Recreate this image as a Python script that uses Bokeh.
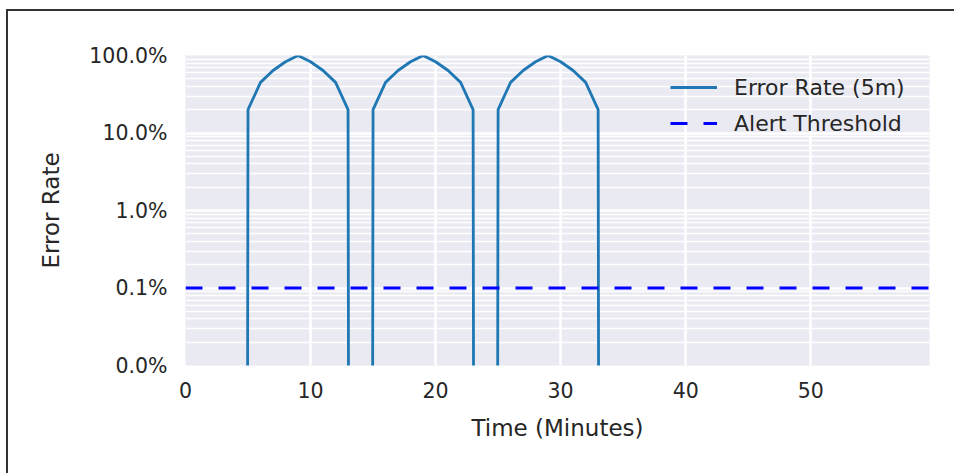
import numpy as np
from bokeh.plotting import figure
from bokeh.models import (Range1d, FixedTicker, Legend, LegendItem)
from bokeh.embed import file_html
from bokeh.resources import INLINE

# ---- data ----
minutes = list(range(60))
error_rate = ([0, 0, 0, 0, 0]
              + [0.2, 0.45, 0.64, 0.83, 1.0, 0.83, 0.64, 0.45, 0.2]
              + [0]
              + [0.2, 0.45, 0.64, 0.83, 1.0, 0.83, 0.64, 0.45, 0.2]
              + [0]
              + [0.2, 0.45, 0.64, 0.83, 1.0, 0.83, 0.64, 0.45, 0.2]
              + [0] * 26)
threshold = 0.001
x_limits = [0, 59.5]
y_limits = [1e-4, 1.0]
x_ticks = [0, 10, 20, 30, 40, 50]
y_ticks = [1e-4, 1e-3, 1e-2, 1e-1, 1.0]
y_tick_labels = ["0.0%", "0.1%", "1.0%", "10.0%", "100.0%"]
series_names = ["Error Rate (5m)", "Alert Threshold"]

FONT = "DejaVu Sans"
TXT = "#262626"

# zeros cannot be shown on a log axis: clip them far below the visible range (like matplotlib)
plot_rate = np.clip(np.array(error_rate, dtype=float), 1e-100, None)

p = figure(width=948, height=464, y_axis_type="log",
           x_range=Range1d(*x_limits), y_range=Range1d(*y_limits),
           output_backend="svg", toolbar_location=None,
           min_border_left=177, min_border_right=27,
           min_border_top=44, min_border_bottom=110)

p.styles = {"border-top": "2px solid #333333", "border-left": "2px solid #333333",
            "margin-left": "6px", "margin-top": "9px"}

p.background_fill_color = "#EAEAF2"
p.border_fill_color = "white"
p.outline_line_color = None

r1 = p.line(minutes, plot_rate, line_color="#1f77b4", line_width=2.8)
r2 = p.line(x_limits, [threshold, threshold], line_color="#0000ff", line_width=2.8,
            line_dash="17 16")

# ticks / grids
minor = [k * d for d in y_ticks[:-1] for k in range(2, 10)]
p.yaxis.ticker = FixedTicker(ticks=y_ticks, minor_ticks=minor)
p.xaxis.ticker = FixedTicker(ticks=x_ticks)
p.yaxis.major_label_overrides = {t: s for t, s in zip(y_ticks, y_tick_labels)}

p.xgrid.grid_line_color = "white"
p.xgrid.grid_line_width = 2.5
p.ygrid.grid_line_color = "white"
p.ygrid.grid_line_width = 2.5
p.ygrid.minor_grid_line_color = "white"
p.ygrid.minor_grid_line_width = 1.5

for ax in (p.xaxis[0], p.yaxis[0]):
    ax.axis_line_color = None
    ax.major_tick_line_color = None
    ax.minor_tick_line_color = None
    ax.major_tick_out = 0
    ax.minor_tick_out = 0
    ax.major_label_text_font = FONT
    ax.major_label_text_font_size = "20.5px"
    ax.major_label_text_color = TXT
    ax.axis_label_text_font = FONT
    ax.axis_label_text_font_size = "23px"
    ax.axis_label_text_font_style = "normal"
    ax.axis_label_text_color = TXT

p.xaxis.axis_label = "Time (Minutes)"
p.yaxis.axis_label = "Error Rate"
p.xaxis.major_label_standoff = 16
p.yaxis.major_label_standoff = 18
p.xaxis.axis_label_standoff = 14
p.yaxis.axis_label_standoff = 22

legend = Legend(items=[LegendItem(label=series_names[0], renderers=[r1]),
                       LegendItem(label=series_names[1], renderers=[r2])],
                location=(485, 224), padding=0, margin=0, spacing=0,
                glyph_width=47, label_standoff=17, label_height=36, glyph_height=36,
                border_line_alpha=0, background_fill_alpha=0,
                label_text_font=FONT, label_text_font_size="22px",
                label_text_color=TXT)
p.add_layout(legend)

open("out.html", "w").write(file_html(p, INLINE))
